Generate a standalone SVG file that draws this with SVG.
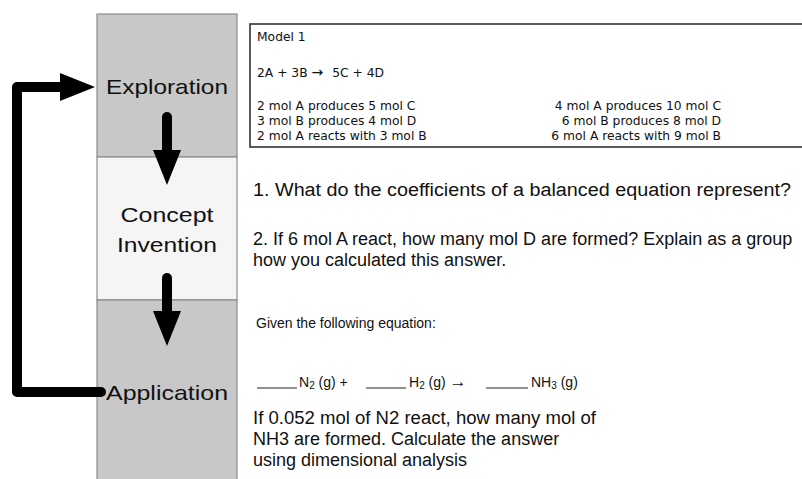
<svg xmlns="http://www.w3.org/2000/svg" width="802" height="479" viewBox="0 0 802 479">
  <style>
    .stage { stroke: #8c8c8c; stroke-width: 1.2; }
    .dark { fill: #c8c8c8; }
    .light { fill: #f5f5f5; }
    .label { font-family: "Liberation Sans", Arial, sans-serif; font-size: 21px; fill: #111; text-anchor: middle; }
    .model { font-family: "DejaVu Sans", Verdana, sans-serif; font-size: 12.3px; fill: #111; }
    .q { font-family: "Liberation Sans", Arial, sans-serif; font-size: 18px; fill: #111; }
    .s { font-family: "Liberation Sans", Arial, sans-serif; font-size: 14px; fill: #111; }
    .conn { fill: none; stroke: #000; stroke-width: 10; stroke-linecap: round; stroke-linejoin: round; }
    .blank { stroke: #222; stroke-width: 1; }
  </style>
  <defs>
    <marker id="head" markerUnits="userSpaceOnUse" markerWidth="36" markerHeight="30" refX="0" refY="14" orient="auto" overflow="visible">
      <path d="M0,0 L35,14 L0,28 Z" fill="#000"/>
    </marker>
  </defs>
  <rect width="802" height="479" fill="#fff"/>

  <g id="exploration">
    <rect class="stage dark" x="97" y="14" width="140" height="143"/>
    <text class="label" x="167" y="94" textLength="122" lengthAdjust="spacingAndGlyphs">Exploration</text>
  </g>
  <g id="concept-invention">
    <rect class="stage light" x="97" y="157" width="140" height="143"/>
    <text class="label" x="167" y="222" textLength="93" lengthAdjust="spacingAndGlyphs">Concept</text>
    <text class="label" x="167" y="252" textLength="100" lengthAdjust="spacingAndGlyphs">Invention</text>
  </g>
  <g id="application">
    <rect class="stage dark" x="97" y="300" width="140" height="185"/>
    <text class="label" x="167" y="400" textLength="122" lengthAdjust="spacingAndGlyphs">Application</text>
  </g>

  <g id="model-1">
    <rect x="250" y="24" width="560" height="123" fill="#fff" stroke="#333" stroke-width="1.6"/>
    <text class="model" x="257" y="41" font-size="13.5">Model 1</text>
    <text class="model" x="257" y="77">2A + 3B <tspan font-size="14">→</tspan> <tspan dx="5">5C + 4D</tspan></text>
    <text class="model" x="257" y="110">2 mol A produces 5 mol C</text>
    <text class="model" x="257" y="125">3 mol B produces 4 mol D</text>
    <text class="model" x="257" y="140">2 mol A reacts with 3 mol B</text>
    <text class="model" x="721" y="110" text-anchor="end">4 mol A produces 10 mol C</text>
    <text class="model" x="721" y="125" text-anchor="end">6 mol B produces 8 mol D</text>
    <text class="model" x="721" y="140" text-anchor="end">6 mol A reacts with 9 mol B</text>
  </g>

  <g id="questions">
    <text class="q" x="253" y="196" textLength="538" lengthAdjust="spacingAndGlyphs">1. What do the coefficients of a balanced equation represent?</text>
    <text class="q" x="253" y="245">2. If 6 mol A react, how many mol D are formed? Explain as a group</text>
    <text class="q" x="253" y="266">how you calculated this answer.</text>
  </g>

  <g id="application-task">
    <text class="s" x="256" y="328">Given the following equation:</text>
    <line class="blank" x1="257" y1="388" x2="297" y2="388"/>
    <text class="s" x="299" y="387">N<tspan font-size="10" dy="2">2</tspan><tspan dy="-2"> (g) +</tspan></text>
    <line class="blank" x1="366" y1="388" x2="406" y2="388"/>
    <text class="s" x="409" y="387">H<tspan font-size="10" dy="2">2</tspan><tspan dy="-2"> (g) </tspan><tspan font-size="17">→</tspan></text>
    <line class="blank" x1="486" y1="388" x2="528" y2="388"/>
    <text class="s" x="531" y="387">NH<tspan font-size="10" dy="2">3</tspan><tspan dy="-2"> (g)</tspan></text>
    <text class="q" x="253" y="424" textLength="343" lengthAdjust="spacingAndGlyphs">If 0.052 mol of N2 react, how many mol of</text>
    <text class="q" x="253" y="445">NH3 are formed. Calculate the answer</text>
    <text class="q" x="253" y="466">using dimensional analysis</text>
  </g>

  <g id="connectors">
    <path class="conn" d="M167,117 V150" marker-end="url(#head)"/>
    <path class="conn" d="M167,278 V311" marker-end="url(#head)"/>
    <path class="conn" d="M101,392 H17 V87 H60" marker-end="url(#head)"/>
  </g>
</svg>
